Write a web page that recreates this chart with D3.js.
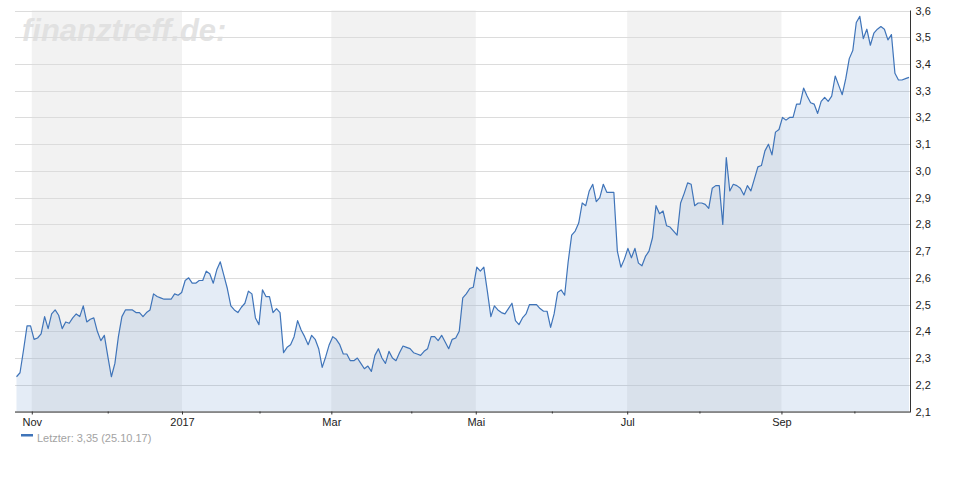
<!DOCTYPE html>
<html>
<head>
<meta charset="utf-8">
<script src="https://cdn.jsdelivr.net/npm/d3@7"></script>
<style>
  html, body { margin: 0; padding: 0; background: #ffffff; }
  svg { display: block; font-family: "Liberation Sans", Arial, sans-serif; }
</style>
</head>
<body>
<svg id="chart" width="970" height="500"></svg>
<script>
// Daily closing prices, 25.10.2016 – 25.10.2017 (trading days)
const values = [
  2.23, 2.245, 2.33, 2.42, 2.42, 2.37, 2.375, 2.39, 2.455, 2.41,
  2.465, 2.48, 2.46, 2.41, 2.435, 2.43, 2.45, 2.465, 2.455, 2.495,
  2.435, 2.445, 2.45, 2.40, 2.365, 2.385, 2.305, 2.23, 2.28, 2.38,
  2.455, 2.48, 2.48, 2.48, 2.47, 2.47, 2.455, 2.47, 2.48, 2.54,
  2.53, 2.525, 2.52, 2.52, 2.52, 2.54, 2.535, 2.545, 2.59, 2.60,
  2.58, 2.58, 2.59, 2.59, 2.625, 2.615, 2.58, 2.63, 2.66, 2.61,
  2.56, 2.495, 2.48, 2.47, 2.49, 2.505, 2.55, 2.54, 2.45, 2.425,
  2.555, 2.53, 2.53, 2.47, 2.485, 2.47, 2.32, 2.34, 2.35, 2.38,
  2.44, 2.405, 2.38, 2.35, 2.385, 2.37, 2.335, 2.265, 2.305, 2.35,
  2.38, 2.37, 2.35, 2.315, 2.315, 2.29, 2.29, 2.30, 2.28, 2.26,
  2.27, 2.25, 2.31, 2.335, 2.30, 2.28, 2.325, 2.30, 2.29, 2.32,
  2.345, 2.34, 2.335, 2.32, 2.315, 2.31, 2.325, 2.335, 2.38, 2.38,
  2.365, 2.385, 2.36, 2.335, 2.37, 2.375, 2.40, 2.525, 2.54, 2.56,
  2.565, 2.64, 2.625, 2.64, 2.55, 2.455, 2.495, 2.48, 2.47, 2.465,
  2.485, 2.505, 2.44, 2.425, 2.45, 2.465, 2.50, 2.50, 2.50, 2.485,
  2.475, 2.475, 2.415, 2.465, 2.545, 2.555, 2.535, 2.66, 2.76, 2.775,
  2.805, 2.88, 2.87, 2.925, 2.95, 2.885, 2.90, 2.95, 2.92, 2.92,
  2.92, 2.70, 2.64, 2.67, 2.71, 2.675, 2.71, 2.655, 2.645, 2.68,
  2.70, 2.75, 2.87, 2.84, 2.85, 2.795, 2.79, 2.775, 2.76, 2.88,
  2.915, 2.955, 2.95, 2.87, 2.88, 2.88, 2.875, 2.86, 2.935, 2.945,
  2.945, 2.80, 3.05, 2.925, 2.95, 2.945, 2.935, 2.91, 2.945, 2.925,
  2.97, 3.015, 3.02, 3.075, 3.10, 3.06, 3.145, 3.155, 3.20, 3.19,
  3.20, 3.20, 3.25, 3.25, 3.31, 3.28, 3.255, 3.25, 3.215, 3.26,
  3.275, 3.26, 3.28, 3.355, 3.32, 3.285, 3.345, 3.42, 3.45, 3.555,
  3.578, 3.495, 3.53, 3.47, 3.515, 3.53, 3.54, 3.53, 3.49, 3.51,
  3.365, 3.34, 3.34, 3.345, 3.35
];

// Month ticks (positions in trading-day index)
const monthLabels = ["Nov", "2017", "Mar", "Mai", "Jul", "Sep"];
const monthPos    = [4.35, 47.1, 89.6, 130.7, 173.8, 217.7];
const midMonthPos = [26.1, 69.3, 112.5, 152.5, 194.5, 238.6];

// Y ticks
const yTicks = [2.1, 2.2, 2.3, 2.4, 2.5, 2.6, 2.7, 2.8, 2.9, 3.0, 3.1, 3.2, 3.3, 3.4, 3.5, 3.6];

const legendText = "Letzter: 3,35 (25.10.17)";
const watermark = "finanztreff.de:";

const svg = d3.select("#chart");
const pLeft = 15, pRight = 910, pTop = 10.5, pBottom = 411.5;

const x = d3.scaleLinear().domain([0, values.length - 1]).range([16.5, 909]);
const y = d3.scaleLinear().domain([2.1, 3.6]).range([pBottom, pTop]);

// alternating shaded bands (Nov–Dec, Mar–Apr, Jul–Aug)
const bands = [[monthPos[0], monthPos[1]], [monthPos[2], monthPos[3]], [monthPos[4], monthPos[5]]];
svg.append("g").selectAll("rect").data(bands).join("rect")
  .attr("x", d => x(d[0]))
  .attr("y", pTop)
  .attr("width", d => x(d[1]) - x(d[0]))
  .attr("height", pBottom - pTop)
  .attr("fill", "#f2f2f2");

// watermark
svg.append("text")
  .attr("x", 22).attr("y", 41)
  .attr("font-size", 31).attr("font-weight", "bold").attr("font-style", "italic")
  .attr("fill", "#dedede").attr("fill-opacity", 0.85)
  .text(watermark);

// gridlines
svg.append("g").selectAll("line").data(yTicks).join("line")
  .attr("x1", pLeft).attr("x2", pRight)
  .attr("y1", d => Math.round(y(d)) + 0.5).attr("y2", d => Math.round(y(d)) + 0.5)
  .attr("stroke", "#dcdcdc").attr("stroke-width", 1);

// area + line
const area = d3.area().x((d, i) => x(i)).y0(pBottom).y1(d => y(d));
const line = d3.line().x((d, i) => x(i)).y(d => y(d));
svg.append("path").datum(values).attr("d", area)
  .attr("fill", "#4a7fc1").attr("fill-opacity", 0.15);
svg.append("path").datum(values).attr("d", line)
  .attr("fill", "none").attr("stroke", "#3f74b9").attr("stroke-width", 1.2)
  .attr("stroke-linejoin", "round");

// x axis
const xAxis = d3.axisBottom(x)
  .tickValues(monthPos)
  .tickFormat((d, i) => monthLabels[i])
  .tickSize(3).tickSizeOuter(0).tickPadding(4);
const gx = svg.append("g").attr("transform", `translate(0,${pBottom})`).call(xAxis);
gx.select(".domain").attr("d", `M${pLeft},0.5H${pRight}`).attr("stroke", "#333");
gx.selectAll(".tick line").attr("stroke", "#333");
gx.selectAll(".tick text").attr("font-size", 11).attr("fill", "#222")
  .attr("font-family", "'Liberation Sans', Arial, sans-serif");
// mid-month minor ticks
gx.append("g").selectAll("line").data(midMonthPos).join("line")
  .attr("x1", d => x(d)).attr("x2", d => x(d))
  .attr("y1", 0).attr("y2", 2)
  .attr("stroke", "#333");

// y axis (right)
const fmt = d3.formatLocale({decimal: ",", thousands: ".", grouping: [3], currency: ["", "€"]}).format(".1f");
const yAxis = d3.axisRight(y).tickValues(yTicks).tickFormat(fmt).tickSize(0).tickPadding(5);
const gy = svg.append("g").attr("transform", `translate(${pRight + 0.5},0)`).call(yAxis);
gy.select(".domain").attr("d", `M0,${pTop}V${pBottom + 1}`).attr("stroke", "#333");
gy.selectAll(".tick text").attr("font-size", 11).attr("fill", "#222")
  .attr("font-family", "'Liberation Sans', Arial, sans-serif");

// legend
svg.append("rect").attr("x", 21).attr("y", 434).attr("width", 12).attr("height", 2.5).attr("fill", "#3f74b9");
svg.append("text").attr("x", 37).attr("y", 441.5)
  .attr("font-size", 11).attr("fill", "#a3a3a3").text(legendText);
</script>
</body>
</html>
